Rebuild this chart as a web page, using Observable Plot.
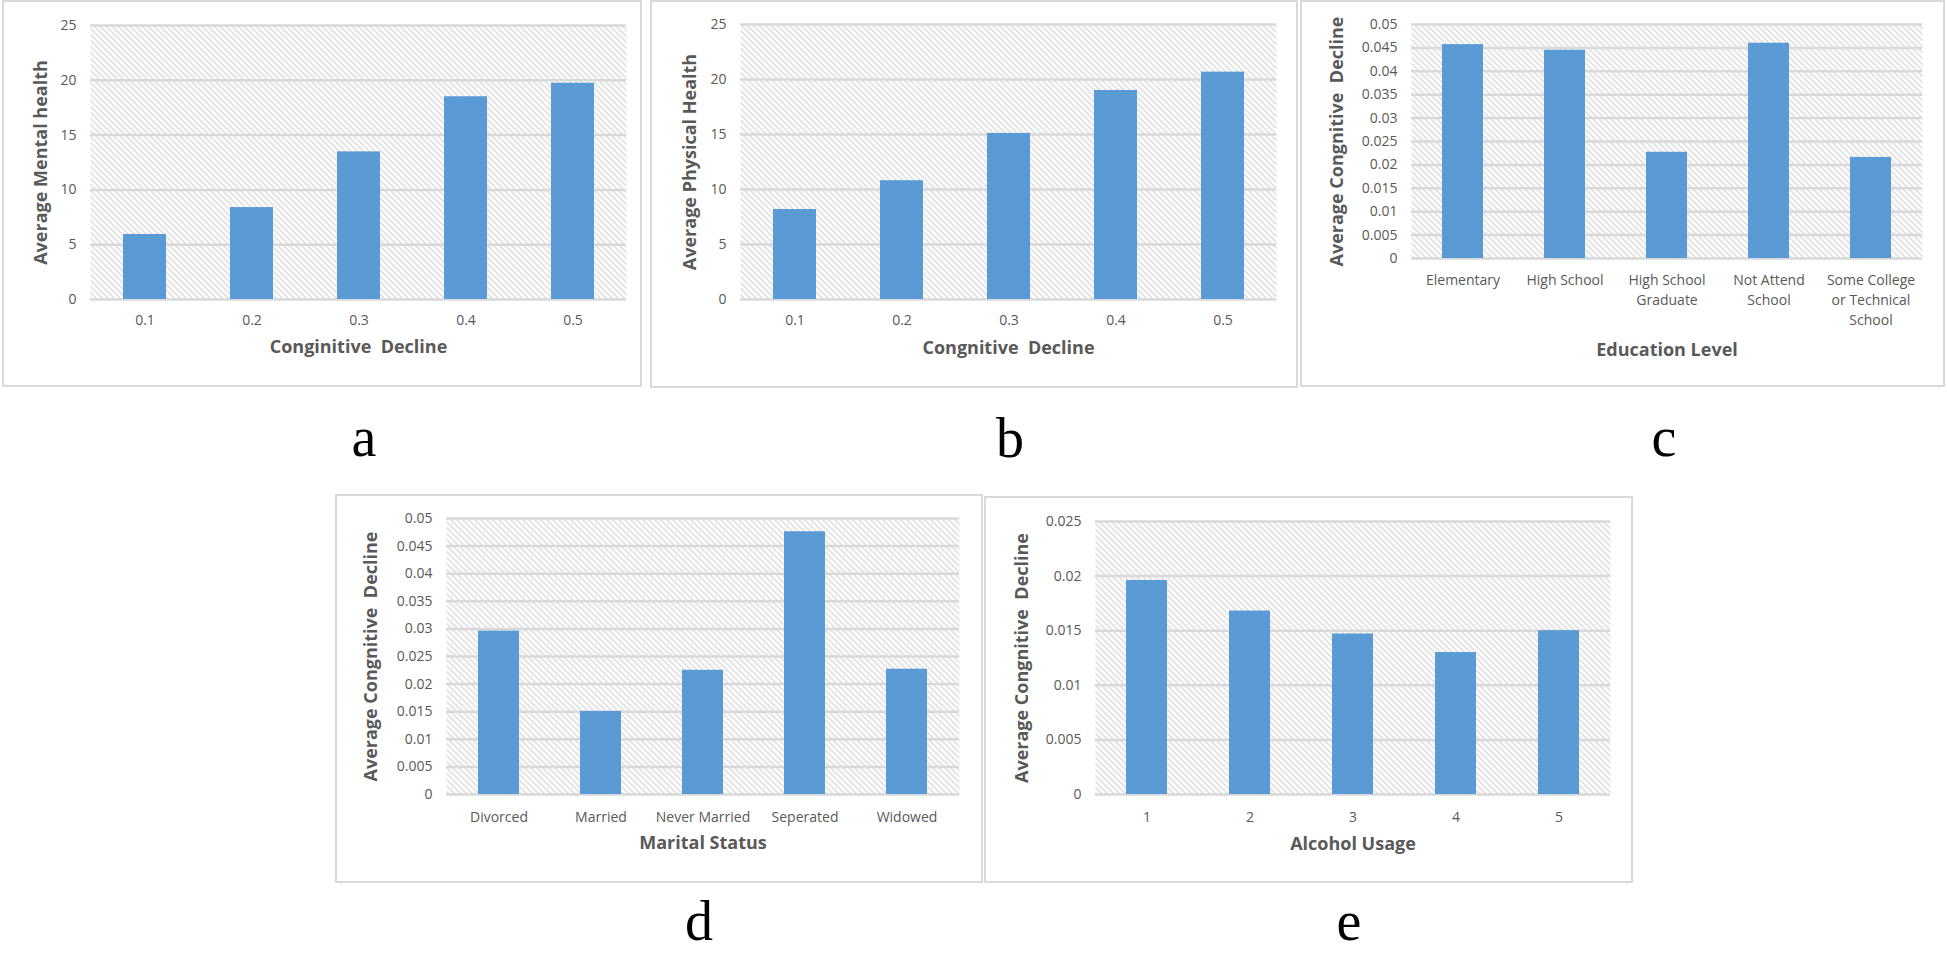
<!DOCTYPE html>
<html><head><meta charset="utf-8">
<script src="https://cdn.jsdelivr.net/npm/d3@7"></script>
<script src="https://cdn.jsdelivr.net/npm/@observablehq/plot@0.6"></script>
<style>
html,body{margin:0;padding:0;background:#fff;}
#page{position:relative;width:1947px;height:953px;overflow:hidden;background:#fff;}
.box{position:absolute;box-sizing:border-box;border:2px solid #d9d9d9;}
.plot{position:absolute;}
.letter{position:absolute;font-family:"Liberation Serif","Times New Roman",serif;font-size:56px;line-height:1;transform:translateX(-50%);color:#000;}
</style></head><body><div id="page"></div>
<script>
// ---- data ----
const cogLevels = ["0.1", "0.2", "0.3", "0.4", "0.5"];
const mentalHealth = [5.93, 8.39, 13.47, 18.5, 19.73];
const physicalHealth = [8.18, 10.8, 15.1, 19.0, 20.67];
const educationLevels = ["Elementary", "High School", "High School Graduate", "Not Attend School", "Some College or Technical School"];
const educationTickLabels = ["Elementary", "High School", "High School\nGraduate", "Not Attend\nSchool", "Some College\nor Technical\nSchool"];
const educationDecline = [0.0457, 0.0445, 0.0227, 0.046, 0.0216];
const maritalStatuses = ["Divorced", "Married", "Never Married", "Seperated", "Widowed"];
const maritalDecline = [0.0296, 0.01505, 0.0225, 0.0476, 0.0227];
const alcoholUsage = ["1", "2", "3", "4", "5"];
const alcoholDecline = [0.0196, 0.0168, 0.0147, 0.0130, 0.0150];
const healthTicks = [0, 5, 10, 15, 20, 25];
const declineTicks05 = [0, 0.005, 0.01, 0.015, 0.02, 0.025, 0.03, 0.035, 0.04, 0.045, 0.05];
const declineTicks025 = [0, 0.005, 0.01, 0.015, 0.02, 0.025];
const panelLetters = ["a", "b", "c", "d", "e"];
const xTitles = ["Conginitive\u00a0 Decline", "Congnitive\u00a0 Decline", "Education Level", "Marital Status", "Alcohol Usage"];
const yTitles = ["Average Mental health", "Average Physical Health", "Average Congnitive\u00a0 Decline", "Average Congnitive\u00a0 Decline", "Average Congnitive\u00a0 Decline"];

const FONT = '"Open Sans", "DejaVu Sans", sans-serif';
const GRID = "#d9d9d9";
const BAR = "#5b9bd5";
const page = document.getElementById("page");

function panel(cfg) {
  const data = cfg.cats.map((c, i) => ({cat: c, value: cfg.values[i]}));
  const labels = new Map(cfg.cats.map((c, i) => [c, cfg.tickLabels ? cfg.tickLabels[i] : c]));
  const id = "hatch-" + cfg.key;
  const chart = Plot.plot({
    width: cfg.w, height: cfg.h,
    marginLeft: cfg.mL, marginRight: cfg.mR, marginTop: cfg.mT, marginBottom: cfg.mB,
    style: {fontFamily: FONT, fontSize: "14px", color: "#595959", background: "transparent", overflow: "visible"},
    x: {domain: cfg.cats, paddingInner: 0.6, paddingOuter: 0.3, label: null},
    y: {domain: [0, cfg.yMax], label: null},
    marks: [
      Plot.frame({fill: `url(#${id})`, stroke: "none"}),
      Plot.gridY(cfg.yTicks, {stroke: GRID, strokeOpacity: 1, strokeWidth: 2.5}),
      Plot.barY(data, {x: "cat", y: "value", fill: BAR}),
      Plot.axisY(cfg.yTicks, {tickSize: 0, tickPadding: 14, tickFormat: d => String(d), label: null}),
      Plot.axisX({tickSize: 0, tickPadding: cfg.xPad, tickFormat: d => labels.get(d), label: null, lineHeight: 1.43}),
      Plot.text([cfg.xTitle], {text: d => d, frameAnchor: "bottom", dy: cfg.xDy, fontWeight: "bold", fontSize: 18, fill: "#595959"}),
      Plot.text([cfg.yTitle], {text: d => d, frameAnchor: "left", textAnchor: "middle", dx: cfg.yDx, rotate: -90, fontWeight: "bold", fontSize: 18, fill: "#595959"})
    ]
  });
  const svg = d3.select(chart);
  const pat = svg.insert("defs", ":first-child").append("pattern")
    .attr("id", id).attr("patternUnits", "userSpaceOnUse").attr("width", 6).attr("height", 6);
  pat.append("rect").attr("width", 6).attr("height", 6).attr("fill", "#fff");
  pat.append("path").attr("d", "M0,0L6,6M-1,5L1,7M5,-1L7,1").attr("stroke", "#d6d6d6").attr("stroke-width", 1.3);

  const box = document.createElement("div");
  box.className = "box";
  Object.assign(box.style, {left: cfg.L + "px", top: cfg.T + "px", width: cfg.w + "px", height: cfg.h + "px"});
  page.appendChild(box);
  chart.classList.add("plot");
  chart.style.left = cfg.L + "px";
  chart.style.top = cfg.T + "px";
  page.appendChild(chart);

  const lt = document.createElement("div");
  lt.className = "letter";
  lt.textContent = cfg.letter;
  lt.style.left = cfg.letterX + "px";
  lt.style.top = cfg.letterTop + "px";
  page.appendChild(lt);
}

panel({key: "a", cats: cogLevels, values: mentalHealth, yMax: 25, yTicks: healthTicks,
  xTitle: xTitles[0], yTitle: yTitles[0], letter: panelLetters[0],
  L: 2, T: 0, w: 640, h: 387, mL: 88, mR: 16, mT: 25, mB: 88, xPad: 11, xDy: 53, yDx: -49,
  letterX: 364, letterTop: 409});
panel({key: "b", cats: cogLevels, values: physicalHealth, yMax: 25, yTicks: healthTicks,
  xTitle: xTitles[1], yTitle: yTitles[1], letter: panelLetters[1],
  L: 650, T: 0, w: 648, h: 388, mL: 90, mR: 22, mT: 24, mB: 89, xPad: 11, xDy: 54, yDx: -50,
  letterX: 1010, letterTop: 410});
panel({key: "c", cats: educationLevels, values: educationDecline, tickLabels: educationTickLabels, yMax: 0.05, yTicks: declineTicks05,
  xTitle: xTitles[2], yTitle: yTitles[2], letter: panelLetters[2],
  L: 1300, T: 0, w: 645, h: 387, mL: 111, mR: 23, mT: 24, mB: 129, xPad: 12, xDy: 97, yDx: -74,
  letterX: 1664, letterTop: 409});
panel({key: "d", cats: maritalStatuses, values: maritalDecline, yMax: 0.05, yTicks: declineTicks05,
  xTitle: xTitles[3], yTitle: yTitles[3], letter: panelLetters[3],
  L: 335, T: 494, w: 648, h: 389, mL: 111, mR: 24, mT: 24, mB: 89, xPad: 13, xDy: 54, yDx: -75,
  letterX: 699, letterTop: 893});
panel({key: "e", cats: alcoholUsage, values: alcoholDecline, yMax: 0.025, yTicks: declineTicks025,
  xTitle: xTitles[4], yTitle: yTitles[4], letter: panelLetters[4],
  L: 984, T: 496, w: 649, h: 387, mL: 111, mR: 23, mT: 25, mB: 89, xPad: 13, xDy: 55, yDx: -73,
  letterX: 1349, letterTop: 893});
</script>
</body></html>
